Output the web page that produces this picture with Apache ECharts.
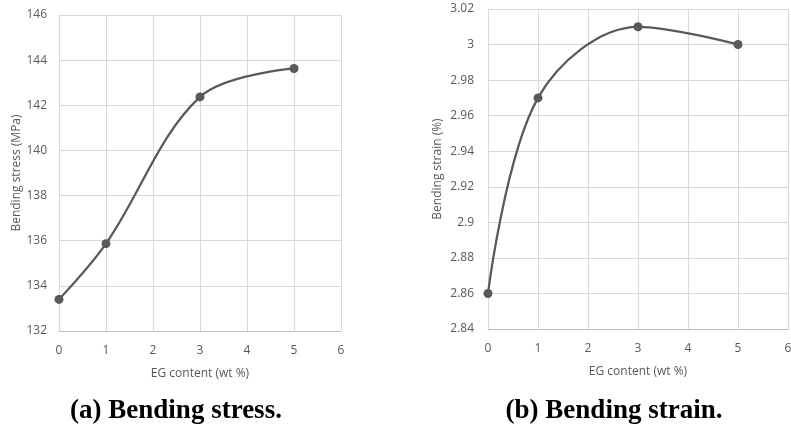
<!DOCTYPE html>
<html>
<head>
<meta charset="utf-8">
<script src="https://cdn.jsdelivr.net/npm/echarts@6/dist/echarts.min.js"></script>
<style>
  html, body { margin: 0; padding: 0; background: #fff; }
  #chart { width: 791px; height: 425px; }
</style>
</head>
<body>
<div id="chart"></div>
<script>
// EG content (wt %)
const egContent = [0, 1, 3, 5];
// bending stress (MPa)
const stressValues = [133.4, 135.87, 142.37, 143.63];
// bending strain (%)
const strainValues = [2.86, 2.97, 3.01, 3.0];
const captions = ['(a) Bending stress.', '(b) Bending strain.'];

const chart = echarts.init(document.getElementById('chart'));

const axisFont = { color: '#595959', fontFamily: 'Open Sans', fontSize: 12 };

function xAxis(gridIndex) {
  return {
    gridIndex: gridIndex,
    type: 'value',
    min: 0, max: 6, interval: 1,
    name: 'EG content (wt %)',
    nameLocation: 'middle',
    nameGap: 37,
    nameTextStyle: axisFont,
    axisLine: { show: true, lineStyle: { color: '#bfbfbf' } },
    axisTick: { show: false },
    axisLabel: Object.assign({ margin: 14 }, axisFont),
    splitLine: { show: true, lineStyle: { color: '#d9d9d9' } }
  };
}

function yAxis(gridIndex, min, max, interval, name, nameGap, margin) {
  return {
    gridIndex: gridIndex,
    type: 'value',
    min: min, max: max, interval: interval,
    name: name,
    nameLocation: 'middle',
    nameGap: nameGap,
    nameTextStyle: axisFont,
    axisLine: { show: false },
    axisTick: { show: false },
    axisLabel: Object.assign({ margin: margin }, axisFont),
    splitLine: { show: true, lineStyle: { color: '#d9d9d9' } }
  };
}

function lineSeries(idx, values) {
  return {
    type: 'line',
    xAxisIndex: idx,
    yAxisIndex: idx,
    data: egContent.map((x, i) => [x, values[i]]),
    smooth: 0.35,
    symbol: 'circle',
    symbolSize: 9,
    lineStyle: { color: '#595959', width: 2.25 },
    itemStyle: { color: '#595959' }
  };
}

const captionStyle = { fontFamily: 'Liberation Serif', fontWeight: 'bold', fontSize: 27, color: '#000' };

chart.setOption({
  animation: false,
  title: [
    { text: captions[0], left: 171, top: 393, textAlign: 'center', textStyle: captionStyle },
    { text: captions[1], left: 609, top: 393, textAlign: 'center', textStyle: captionStyle }
  ],
  grid: [
    { left: 59, right: 450, top: 15, bottom: 94, outerBoundsMode: 'none' },
    { left: 488, right: 3, top: 9, bottom: 96, outerBoundsMode: 'none' }
  ],
  xAxis: [xAxis(0), xAxis(1)],
  yAxis: [
    yAxis(0, 132, 146, 2, 'Bending stress (MPa)', 36, 12),
    yAxis(1, 2.84, 3.02, 0.02, 'Bending strain (%)', 44, 14)
  ],
  series: [lineSeries(0, stressValues), lineSeries(1, strainValues)]
});
</script>
</body>
</html>
